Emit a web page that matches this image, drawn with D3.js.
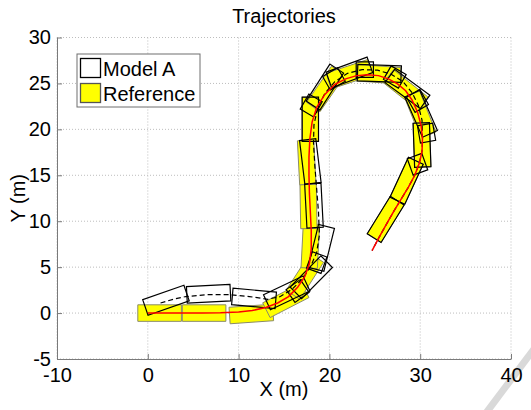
<!DOCTYPE html>
<html><head><meta charset="utf-8">
<script src="https://cdn.jsdelivr.net/npm/d3@7"></script>
<style>
body{margin:0;background:#fff}
svg{display:block}
text{font-family:"Liberation Sans",Arial,Helvetica,sans-serif;fill:#000}
</style>
</head><body>
<svg id="chart" width="531" height="410"></svg>
<script>
// ---------- data ----------
const chartTitle = "Trajectories";
const xLabel = "X (m)";
const yLabel = "Y (m)";
const xTicks = [-10, 0, 10, 20, 30, 40];
const yTicks = [-5, 0, 5, 10, 15, 20, 25, 30];
const seriesNames = ["Model A", "Reference"];

// reference trajectory (red line)
const referencePath = [
  [0,0],[2,0],[4,0],[6,0],[8,0.03],[10,0.12],[11.5,0.28],[13,0.6],[14.3,1.1],[15.5,1.8],
  [16.5,2.8],[17.3,4.0],[17.8,5.4],[18.0,7.0],[18.0,9.0],[17.9,11.0],[17.8,13.0],[17.75,15.0],
  [17.75,17.0],[17.85,19.0],[18.1,20.8],[18.6,22.4],[19.5,23.8],[20.6,24.9],[21.8,25.5],
  [23.0,25.85],[24.2,25.95],[25.4,25.85],[26.5,25.5],[27.5,24.95],[28.4,24.2],[29.1,23.2],
  [29.7,21.9],[30.1,20.4],[30.25,19.0],[30.2,17.6],[29.9,16.3],[29.4,15.0],[28.7,13.7],
  [27.9,12.4],[27.1,11.1],[26.3,9.7],[25.5,8.3],[24.7,6.8]
];
// Model A trajectory (dashed black line)
const modelPath = [
  [1.4,1.1],[2.8,1.5],[4.2,1.8],[6.5,2.0],[9.1,2.0],[11.2,1.8],[13.2,1.5],[14.6,1.8],
  [15.9,2.6],[17.0,3.7],[17.9,5.0],[18.6,6.6],[18.9,8.5],[18.8,11.0],[18.6,13.5],[18.4,16.0],
  [18.25,18.5],[18.3,20.5],[18.7,22.3],[19.5,23.9],[20.6,25.2],[22.0,26.1],[23.6,26.5],
  [25.3,26.45],[26.8,26.0],[28.1,25.2],[29.1,24.0],[29.8,22.6],[30.2,21.0],[30.25,19.0],
  [30.2,17.6],[29.9,16.3],[29.4,15.0],[28.7,13.7],[27.9,12.4],[27.1,11.1],[26.3,9.7],
  [25.5,8.3],[24.7,6.8]
];
// vehicle body poses: [x centre, y centre, heading in degrees]
const referenceBodies = [
  [1.3,0,0],[6.2,0,0],[11.4,-0.1,4],[15.2,1.4,27],[17.3,4.0,57],[17.9,7.3,87],
  [17.7,11.6,91],[17.5,16.4,93],[17.9,21.1,90],[19.6,24.4,55],[22.2,26.0,18],
  [25.4,26.0,-4],[28.4,24.3,-38],[30.0,21.6,-68],[30.2,18.3,-88],[28.5,14.4,-115],
  [26.2,10.2,-122]
];
const modelBodies = [
  [2.0,1.4,19],[6.7,2.1,3],[11.7,1.6,-5],[15.3,2.2,25],[18.0,3.9,45],[19.1,7.1,76],
  [18.3,11.7,93],[17.9,16.5,97],[17.9,21.1,90],[19.5,24.6,57],[22.2,26.2,20],
  [25.5,26.1,-2],[28.6,24.4,-36],[30.1,21.7,-66],[30.2,18.3,-88],[28.5,14.4,-115],
  [26.2,10.2,-122]
];
const modelCabs = [
  [16.5,2.4,35],[18.6,5.5,70],
  [18.0,22.6,60],[20.5,25.5,30],[23.9,26.5,0],[27.2,25.7,-30],
  [29.7,23.1,-60],[30.7,19.6,-80],[29.7,16.2,-70]
];
const bodySize = [4.8, 1.8];   // length, width (m)
const cabSize = [1.9, 1.7];

// ---------- drawing ----------
const svg = d3.select("#chart");
const plot = {left: 57, right: 511, top: 37.5, bottom: 359};
const x = d3.scaleLinear().domain([-10, 40]).range([plot.left, plot.right]);
const y = d3.scaleLinear().domain([-5, 30]).range([plot.bottom, plot.top]);
const fmt = d => String(d);   // plain hyphen-minus like the original

// decorative page-curl stroke in the corner
svg.append("line").attr("x1", 486).attr("y1", 413).attr("x2", 534).attr("y2", 349)
  .attr("stroke", "#d9d9d9").attr("stroke-width", 7);

// grid
const grid = svg.append("g");
grid.selectAll("line.gx").data(xTicks).join("line")
  .attr("x1", d => x(d)).attr("x2", d => x(d)).attr("y1", plot.top).attr("y2", plot.bottom)
  .attr("stroke", "#bdbdbd").attr("stroke-width", 1).attr("stroke-dasharray", "1,2");
grid.selectAll("line.gy").data(yTicks).join("line")
  .attr("y1", d => y(d)).attr("y2", d => y(d)).attr("x1", plot.left).attr("x2", plot.right)
  .attr("stroke", "#bdbdbd").attr("stroke-width", 1).attr("stroke-dasharray", "1,2");

// axes
const axisColor = "#7a7a7a";
const xAxis = svg.append("g").attr("transform", `translate(0,${plot.bottom})`)
  .call(d3.axisBottom(x).tickValues(xTicks).tickFormat(fmt).tickSizeInner(-5).tickSizeOuter(0).tickPadding(9));
const yAxis = svg.append("g").attr("transform", `translate(${plot.left},0)`)
  .call(d3.axisLeft(y).tickValues(yTicks).tickFormat(fmt).tickSizeInner(-5).tickSizeOuter(0).tickPadding(6));
[xAxis, yAxis].forEach(a => {
  a.select(".domain").attr("stroke", axisColor);
  a.selectAll(".tick line").attr("stroke", axisColor);
  a.selectAll(".tick text").attr("font-size", 20).attr("fill", "#000")
    .style("font-family", '"Liberation Sans",Arial,sans-serif');
});
xAxis.selectAll(".tick text").attr("dy", "0.71em");

// clip
svg.append("clipPath").attr("id", "clip").append("rect")
  .attr("x", plot.left).attr("y", plot.top - 20).attr("width", plot.right - plot.left + 20)
  .attr("height", plot.bottom - plot.top + 20);

function boxPoints(p, size) {
  const [cx, cy, deg] = p, a = deg * Math.PI / 180;
  const hl = size[0] / 2, hw = size[1] / 2;
  const c = Math.cos(a), s = Math.sin(a);
  return [[hl, hw], [-hl, hw], [-hl, -hw], [hl, -hw]]
    .map(([u, v]) => [x(cx + u * c - v * s), y(cy + u * s + v * c)].join(",")).join(" ");
}
const line = d3.line().x(d => x(d[0])).y(d => y(d[1]));
const g = svg.append("g").attr("clip-path", "url(#clip)");

// reference bodies (yellow)
g.append("g").selectAll("polygon").data(referenceBodies).join("polygon")
  .attr("points", d => boxPoints(d, bodySize))
  .attr("fill", "#ffff00").attr("stroke", "#8a8a6a").attr("stroke-width", 1);

// model A bodies & cabs (black outlines)
g.append("g").selectAll("polygon").data(modelBodies).join("polygon")
  .attr("points", d => boxPoints(d, bodySize))
  .attr("fill", "none").attr("stroke", "#000").attr("stroke-width", 1.2);
g.append("g").selectAll("polygon").data(modelCabs).join("polygon")
  .attr("points", d => boxPoints(d, cabSize))
  .attr("fill", "none").attr("stroke", "#000").attr("stroke-width", 1.2);

// model A path (dashed)
g.append("path").datum(modelPath).attr("d", line)
  .attr("fill", "none").attr("stroke", "#000").attr("stroke-width", 1.2)
  .attr("stroke-dasharray", "5,3");
// reference path (red)
g.append("path").datum(referencePath).attr("d", line)
  .attr("fill", "none").attr("stroke", "#ff0000").attr("stroke-width", 1.5);

// title & labels
svg.append("text").attr("x", (plot.left + plot.right) / 2).attr("y", 23)
  .attr("text-anchor", "middle").attr("font-size", 20).text(chartTitle);
svg.append("text").attr("x", (plot.left + plot.right) / 2).attr("y", 396)
  .attr("text-anchor", "middle").attr("font-size", 20).text(xLabel);
svg.append("text").attr("transform", `translate(25,${(plot.top + plot.bottom) / 2}) rotate(-90)`)
  .attr("text-anchor", "middle").attr("font-size", 20).text(yLabel);

// legend
const lg = svg.append("g").attr("transform", "translate(77,54)");
lg.append("rect").attr("x", 0).attr("y", 0).attr("width", 123).attr("height", 53)
  .attr("fill", "#fff").attr("stroke", "#6e6e6e").attr("stroke-width", 1);
const legendStyles = [{fill: "#fff", stroke: "#000"}, {fill: "#ffff00", stroke: "#555"}];
seriesNames.forEach((name, i) => {
  lg.append("rect").attr("x", 3.5).attr("y", 4.5 + i * 25).attr("width", 20).attr("height", 19)
    .attr("fill", legendStyles[i].fill).attr("stroke", legendStyles[i].stroke).attr("stroke-width", 1.3);
  lg.append("text").attr("x", 26).attr("y", 21.5 + i * 25).attr("font-size", 20).text(name);
});
</script>
</body></html>
